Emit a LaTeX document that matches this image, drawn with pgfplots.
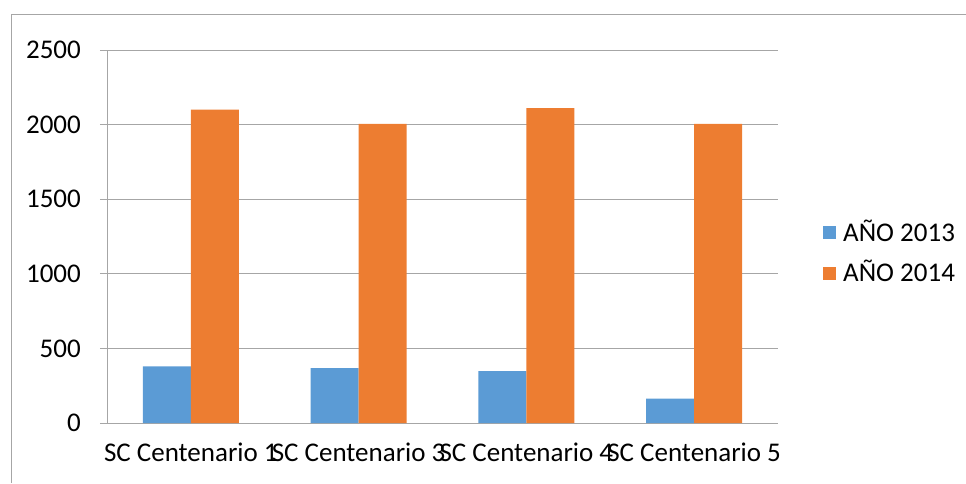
\documentclass[border=0pt]{standalone}
\usepackage{fontspec}
\setmainfont{Carlito}
\usepackage{pgfplots}
\pgfplotsset{compat=1.18}
\definecolor{cblue}{HTML}{5B9BD5}
\definecolor{corange}{HTML}{ED7D31}
\definecolor{cgrid}{HTML}{A6A6A6}
\begin{document}
\fontsize{27pt}{32pt}\selectfont
\begin{tikzpicture}
\useasboundingbox (0,0) rectangle (966pt,483pt);
\draw[cgrid, line width=1pt] (11pt,0) -- (11pt,468pt) -- (966pt,468pt);
\begin{axis}[
  at={(107pt,60pt)}, anchor=south west,
  width=671pt, height=373pt, scale only axis,
  /pgf/number format/assume math mode=true,
  /pgf/number format/1000 sep={},
  ybar=0pt, bar width=0.286,
  xmin=-0.5, xmax=3.5, ymin=0, ymax=2500,
  ytick={0,500,...,2500},
  xtick={0,1,2,3},
  xticklabels={SC Centenario 1,SC Centenario 3,SC Centenario 4,SC Centenario 5},
  x tick style={draw=none},
  extra x ticks={-0.5,0.5,1.5,2.5,3.5},
  extra x tick labels={},
  extra x tick style={grid=none, tick style={draw=cgrid, line width=1pt}, major tick length=8pt, tick align=outside},
  ymajorgrids, grid style={cgrid, line width=1pt},
  y tick style={draw=cgrid, line width=1pt}, major tick length=7pt, tick align=outside,
  axis x line*=bottom, axis y line*=left,
  axis line style={cgrid, line width=1pt, -},
  ticklabel style={font=\fontsize{27pt}{32pt}\selectfont},
  yticklabel style={xshift=-10pt},
  xticklabel style={yshift=-4pt},
  legend style={at={(1.067,0.456)}, anchor=west, draw=none, fill=none,
    font=\fontsize{27pt}{32pt}\selectfont, row sep=11pt, inner sep=0pt,
    nodes={inner xsep=7pt}},
  legend cell align=left,
  legend image code/.code={\fill[#1,draw=none] (0pt,-6.5pt) rectangle (13pt,6.5pt);},
]
\addplot[fill=cblue, draw=none] coordinates {(0,380) (1,368) (2,348) (3,164)};
\addplot[fill=corange, draw=none] coordinates {(0,2100) (1,2005) (2,2110) (3,2005)};
\legend{AÑO 2013, AÑO 2014}
\end{axis}
\end{tikzpicture}
\end{document}
